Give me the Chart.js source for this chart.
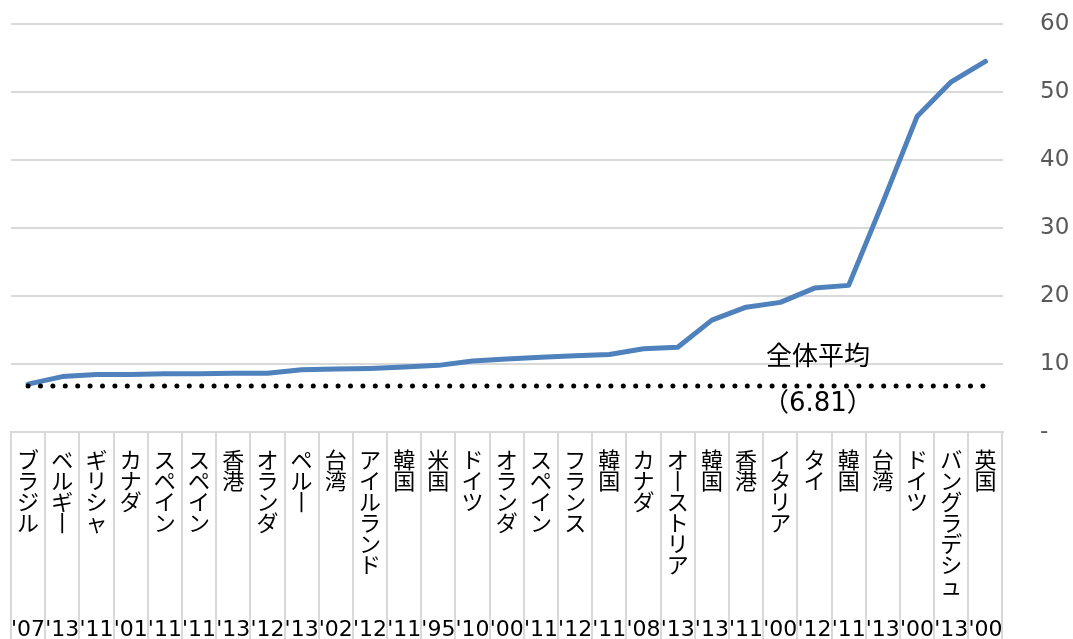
<!DOCTYPE html>
<html lang="ja">
<head>
  <meta charset="UTF-8" />
  <title>全体平均との比較</title>
  <script src="https://cdn.jsdelivr.net/npm/chart.js"></script>
  <style>
    html, body {
      margin: 0;
      padding: 0;
      background: #fff;
    }
    #wrap {
      width: 1073px;
      height: 639px;
      position: relative;
    }
  </style>
</head>
<body>
  <div id="wrap">
    <canvas id="chart"></canvas>
  </div>

  <script>
    // data
    const categories = [
      'ブラジル', 'ベルギー', 'ギリシャ', 'カナダ', 'スペイン', 'スペイン', '香港', 'オランダ',
      'ペルー', '台湾', 'アイルランド', '韓国', '米国', 'ドイツ', 'オランダ', 'スペイン',
      'フランス', '韓国', 'カナダ', 'オーストリア', '韓国', '香港', 'イタリア', 'タイ',
      '韓国', '台湾', 'ドイツ', 'バングラデシュ', '英国'
    ];
    const years = [
      "'07", "'13", "'11", "'01", "'11", "'11", "'13", "'12",
      "'13", "'02", "'12", "'11", "'95", "'10", "'00", "'11",
      "'12", "'11", "'08", "'13", "'13", "'11", "'00", "'12",
      "'11", "'13", "'00", "'13", "'00"
    ];
    const values = [
      7.1, 8.2, 8.5, 8.5, 8.6, 8.6, 8.7, 8.7,
      9.2, 9.3, 9.4, 9.6, 9.85, 10.5, 10.8, 11.05,
      11.25, 11.45, 12.3, 12.5, 16.5, 18.4, 19.1, 21.2,
      21.6, 33.8, 46.4, 51.5, 54.5
    ];
    const averageValue = 6.81;
    const averageLabel = '全体平均';
    const yMax = 60;
    const yStep = 10;

    const fontStack = '"DejaVu Sans", "Noto Sans CJK JP", sans-serif';

    // vertical writing: one character per line, long vowel mark turned upright
    function verticalLabel(index) {
      const chars = Array.from(categories[index]).map(c => c === '\u30FC' ? '\u4E28' : c);
      while (chars.length < 8) chars.push('');
      chars.push(years[index]);
      return chars;
    }

    const averageText = {
      id: 'averageText',
      afterDatasetsDraw(chart) {
        const { ctx, scales: { x, y } } = chart;
        const px = x.getPixelForValue(23.1);
        const py = y.getPixelForValue(averageValue);
        ctx.save();
        ctx.fillStyle = '#000';
        ctx.textAlign = 'center';
        ctx.textBaseline = 'middle';
        ctx.font = '26px ' + fontStack;
        ctx.fillText(averageLabel, px, py - 28);
        ctx.fillText('（' + averageValue.toFixed(2) + '）', px, py + 18);
        ctx.restore();
      }
    };

    new Chart(document.getElementById('chart'), {
      type: 'line',
      data: {
        labels: categories,
        datasets: [
          {
            label: averageLabel,
            data: categories.map(() => averageValue),
            borderColor: '#000',
            borderWidth: 5,
            borderDash: [0, 12.4],
            borderCapStyle: 'round',
            pointRadius: 0,
            fill: false,
            order: 0
          },
          {
            label: 'value',
            data: values,
            borderColor: '#4F81BD',
            borderWidth: 5,
            borderCapStyle: 'round',
            borderJoinStyle: 'round',
            pointRadius: 0,
            tension: 0,
            fill: false,
            order: 1
          }
        ]
      },
      options: {
        responsive: true,
        maintainAspectRatio: false,
        animation: false,
        layout: { padding: { left: 11, top: 24, right: 0, bottom: 0 } },
        plugins: {
          legend: { display: false },
          tooltip: { enabled: false }
        },
        scales: {
          x: {
            offset: true,
            grid: {
              offset: true,
              drawOnChartArea: false,
              drawTicks: true,
              tickLength: 207,
              color: '#D9D9D9',
              lineWidth: 2
            },
            border: { display: true, color: '#D9D9D9', width: 2 },
            ticks: {
              autoSkip: false,
              maxRotation: 0,
              minRotation: 0,
              padding: -188,
              color: '#000',
              font: { family: fontStack, size: 22, lineHeight: 21 / 22 },
              callback: (value, index) => verticalLabel(index)
            },
            afterFit: (scale) => {
              scale.height = 206.6;
              scale.paddingLeft = 0;
              scale.paddingRight = 0;
            }
          },
          y: {
            position: 'right',
            min: 0,
            max: yMax,
            grid: { color: '#D9D9D9', lineWidth: 2, drawTicks: false },
            border: { display: false },
            ticks: {
              stepSize: yStep,
              padding: 37.5,
              color: '#595959',
              font: { family: fontStack, size: 23 },
              callback: (v) => v === 0 ? '-' : v
            },
            afterFit: (scale) => {
              scale.width = 70.5;
              scale.paddingTop = 0;
              scale.paddingBottom = 0;
            }
          }
        }
      },
      plugins: [averageText]
    });
  </script>
</body>
</html>
